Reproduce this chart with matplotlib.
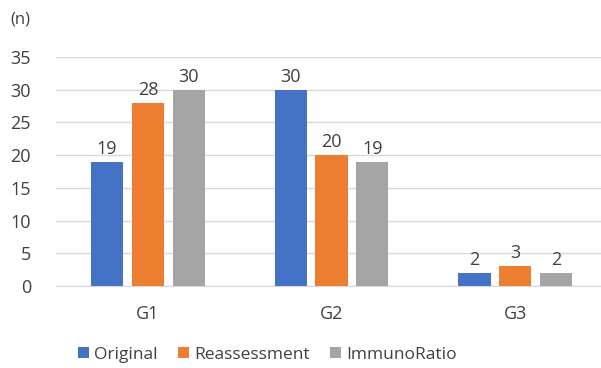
import matplotlib.pyplot as plt
import numpy as np

plt.rcParams['font.family'] = ['Open Sans', 'DejaVu Sans']

groups = ['G1', 'G2', 'G3']
original = [19, 30, 2]
reassessment = [28, 20, 3]
immunoratio = [30, 19, 2]

series = [('Original', original, '#4472C4'),
          ('Reassessment', reassessment, '#ED7D31'),
          ('ImmunoRatio', immunoratio, '#A5A5A5')]

fig = plt.figure(figsize=(6.01, 3.68), dpi=100)
# plot area runs a little past the right edge
ax = fig.add_axes([0.0932, 0.223, 0.917, 0.622])

x = np.arange(len(groups))
w = 0.175
step = 0.222
for i, (name, vals, col) in enumerate(series):
    bars = ax.bar(x + (i - 1) * step, vals, w, color=col, label=name, zorder=3)
    ax.bar_label(bars, padding=3, fontsize=13, color='#404040')

ax.set_xlim(-0.5, 2.5)
ax.set_ylim(0, 35)
ax.set_yticks(range(0, 36, 5))
ax.set_xticks(x)
ax.set_xticklabels(groups)
ax.grid(axis='y', color='#D9D9D9', lw=1, zorder=0)
for s in ['top', 'right', 'left']:
    ax.spines[s].set_visible(False)
ax.spines['bottom'].set_color('#D9D9D9')
ax.tick_params(length=0, labelsize=13, colors='#404040')
ax.tick_params(axis='x', pad=14)
ax.tick_params(axis='y', pad=18)

fig.text(0.017, 0.948, '(n)', fontsize=12, color='#404040', va='center')
fig.legend(loc='center', bbox_to_anchor=(0.445, 0.036), ncol=3, frameon=False,
           fontsize=12.5, handlelength=0.6, handleheight=0.6, handletextpad=0.3,
           columnspacing=1.2, labelcolor='#404040')

fig.savefig('out.png', dpi=100)
